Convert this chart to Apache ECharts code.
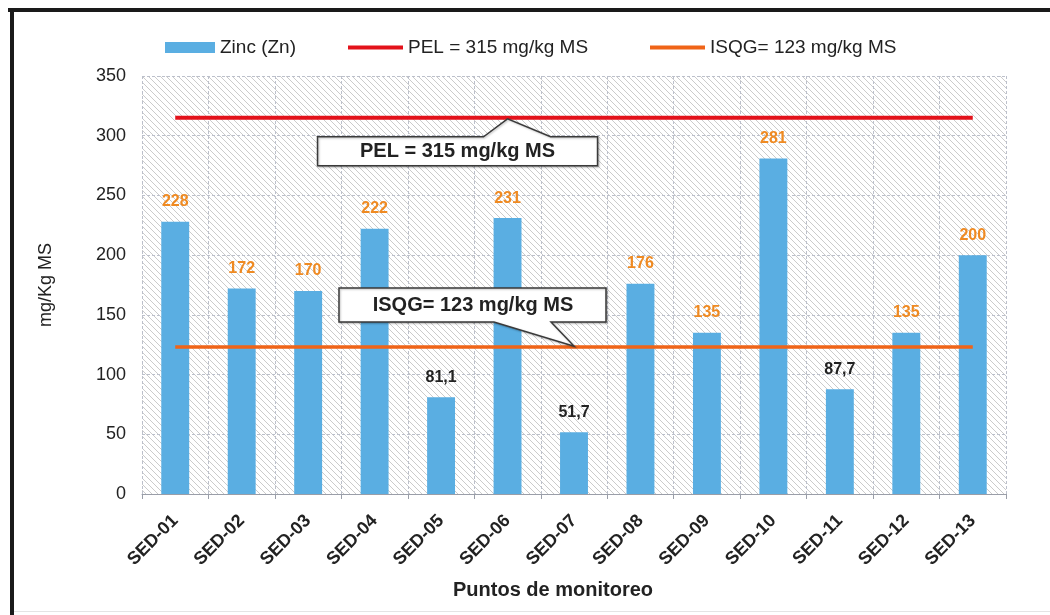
<!DOCTYPE html>
<html><head><meta charset="utf-8">
<script src="https://cdn.jsdelivr.net/npm/echarts@6/dist/echarts.min.js"></script>
<style>html,body{margin:0;padding:0;background:#fff}#c{width:1050px;height:615px}</style>
</head><body><div id="c"></div>
<script>
const categories = ['SED-01','SED-02','SED-03','SED-04','SED-05','SED-06','SED-07','SED-08','SED-09','SED-10','SED-11','SED-12','SED-13'];
const zinc = [228,172,170,222,81.1,231,51.7,176,135,281,87.7,135,200];
const pelValue = 315;
const isqgValue = 123;
const yTicks = [0,50,100,150,200,250,300,350];
const seriesNames = ['Zinc (Zn)','PEL = 315 mg/kg MS','ISQG= 123 mg/kg MS'];
const calloutTexts = ['PEL = 315 mg/kg MS','ISQG= 123 mg/kg MS'];
const pelCalloutCat = 5;   // SED-06
const isqgCalloutCat = 6;  // SED-07

const FONT = '"Liberation Sans", Arial, sans-serif';
const BAR_COLOR = '#5aaee2', PEL_COLOR = '#e3121b', ISQG_COLOR = '#f06418';

// hatch pattern
const pc = document.createElement('canvas');
const n = 6; pc.width = n; pc.height = n;
const g = pc.getContext('2d');
g.fillStyle = '#ffffff'; g.fillRect(0,0,n,n);
g.strokeStyle = '#cbcbcb'; g.lineWidth = 1;
g.beginPath();
g.moveTo(0,0); g.lineTo(n,n);
g.moveTo(-1,n-1); g.lineTo(1,n+1);
g.moveTo(n-1,-1); g.lineTo(n+1,1);
g.stroke();

const legendText = { fontFamily: FONT, fontSize: 19, color: '#222' };
const chart = echarts.init(document.getElementById('c'));
const option = {
  animation: false,
  backgroundColor: '#fff',
  textStyle: { fontFamily: FONT },
  title: {
    text: 'Puntos de monitoreo', left: 448, top: 575,
    textStyle: { fontFamily: FONT, fontSize: 20, fontWeight: 'bold', color: '#222' }
  },
  legend: [
    { left: 160, top: 33, itemWidth: 50, itemHeight: 11, itemGap: 7, textStyle: legendText,
      data: [{ name: seriesNames[0], icon: 'rect' }] },
    { left: 343, top: 33, itemWidth: 55, itemHeight: 4, textStyle: legendText,
      data: [{ name: seriesNames[1], icon: 'rect' }] },
    { left: 645, top: 33, itemWidth: 55, itemHeight: 4, textStyle: legendText,
      data: [{ name: seriesNames[2], icon: 'rect' }] }
  ],
  grid: {
    left: 142, right: 44, top: 76, bottom: 121, show: true,
    borderWidth: 0,
    backgroundColor: { image: pc, repeat: 'repeat' }
  },
  xAxis: {
    type: 'category', data: categories, boundaryGap: true,
    axisLine: { lineStyle: { color: '#9a9ea8', width: 1 } },
    axisTick: { show: true, length: 5, lineStyle: { color: '#9a9ea8' } },
    splitLine: { show: true, lineStyle: { color: '#bcc0cb', type: [3,2] } },
    axisLabel: { rotate: 45, margin: 24, fontFamily: FONT, fontSize: 18, fontWeight: 'bold', color: '#222' }
  },
  yAxis: {
    type: 'value', min: 0, max: 350, interval: 50,
    name: 'mg/Kg MS', nameLocation: 'middle', nameGap: 87, nameRotate: 90,
    nameTextStyle: { fontFamily: FONT, fontSize: 18, color: '#222' },
    axisLine: { show: false }, axisTick: { show: false },
    splitLine: { show: true, lineStyle: { color: '#bcc0cb', type: [3,2] } },
    axisLabel: { fontFamily: FONT, fontSize: 18, color: '#222', margin: 16,
      formatter: v => yTicks.includes(v) ? String(v) : '' }
  },
  series: [
    {
      name: seriesNames[0], type: 'bar', barWidth: '42%', z: 2,
      itemStyle: { color: BAR_COLOR },
      data: zinc.map(v => ({ value: v, label: { color: v > isqgValue ? '#ef8a22' : '#222' } })),
      label: {
        show: true, position: 'top', distance: 12,
        fontFamily: FONT, fontSize: 16, fontWeight: 'bold',
        formatter: p => String(p.value).replace('.', ',')
      }
    },
    {
      name: seriesNames[1], type: 'line', data: categories.map(() => pelValue),
      symbol: 'none', z: 3, lineStyle: { color: PEL_COLOR, width: 4 }, itemStyle: { color: PEL_COLOR }
    },
    {
      name: seriesNames[2], type: 'line', data: categories.map(() => isqgValue),
      symbol: 'none', z: 3, lineStyle: { color: ISQG_COLOR, width: 3.5 }, itemStyle: { color: ISQG_COLOR }
    }
  ]
};
chart.setOption(option);

function px(cat, val) { return chart.convertToPixel({ gridIndex: 0 }, [cat, val]); }
const pTip = px(pelCalloutCat, pelValue);
const iTip = px(isqgCalloutCat, isqgValue);
const pt = [pTip[0], pTip[1] + 1];
const it = [iTip[0], iTip[1] - 1];

const pelPts = [
  [pt[0]-190, pt[1]+18], [pt[0]-24, pt[1]+18], pt, [pt[0]+43, pt[1]+18],
  [pt[0]+90, pt[1]+18], [pt[0]+90, pt[1]+47], [pt[0]-190, pt[1]+47]
];
const isqPts = [
  [it[0]-235, it[1]-58], [it[0]+32, it[1]-58], [it[0]+32, it[1]-24],
  [it[0]-23, it[1]-24], it, [it[0]-80, it[1]-24], [it[0]-235, it[1]-24]
];
const boxStyle = { fill: '#fff', stroke: '#3a3a3a', lineWidth: 1.5, shadowColor: 'rgba(0,0,0,0.25)', shadowBlur: 2, shadowOffsetX: 1, shadowOffsetY: 1 };
chart.setOption({
  graphic: [
    { type: 'polygon', z: 100, shape: { points: pelPts }, style: boxStyle },
    { type: 'text', z: 101, x: pt[0]-50, y: pt[1]+33,
      style: { text: calloutTexts[0], font: 'bold 20px ' + FONT, fill: '#222', textAlign: 'center', textVerticalAlign: 'middle' } },
    { type: 'polygon', z: 100, shape: { points: isqPts }, style: boxStyle },
    { type: 'text', z: 101, x: it[0]-101, y: it[1]-41,
      style: { text: calloutTexts[1], font: 'bold 20px ' + FONT, fill: '#222', textAlign: 'center', textVerticalAlign: 'middle' } },
    { type: 'rect', z: 100, shape: { x: 8, y: 8, width: 1100, height: 4 }, style: { fill: '#1a1a1a' } },
    { type: 'rect', z: 100, shape: { x: 10, y: 8, width: 4, height: 700 }, style: { fill: '#1a1a1a' } },
    { type: 'rect', z: 100, shape: { x: 14, y: 611, width: 1036, height: 1 }, style: { fill: '#e4e4e4' } }
  ]
});
</script>
</body></html>
